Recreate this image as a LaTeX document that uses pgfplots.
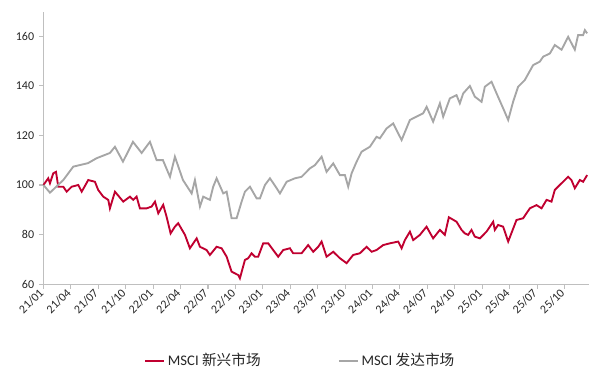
\documentclass[border=0pt]{standalone}
\usepackage{fontspec}
\setmainfont{Carlito}
\newfontfamily\cjk{Noto Sans CJK SC}
\usepackage{pgfplots}
\pgfplotsset{compat=1.18}
\definecolor{emred}{HTML}{C00030}
\definecolor{dmgray}{HTML}{A6A6A6}
\definecolor{axgray}{HTML}{BFBFBF}
\definecolor{txt}{HTML}{262626}
\begin{document}
\begin{tikzpicture}
\begin{axis}[
  scale only axis,
  width=409pt, height=204.2pt,
  xmin=0, xmax=59.66, ymin=60, ymax=169.7,
  axis lines*=left,
  axis line style={axgray, line width=0.8pt},
  every tick/.style={axgray, line width=0.8pt},
  tick align=outside,
  major tick length=3.5pt,
  xtick={0,3,...,57},
  xticklabels={21/01,21/04,21/07,21/10,22/01,22/04,22/07,22/10,23/01,23/04,23/07,23/10,24/01,24/04,24/07,24/10,25/01,25/04,25/07,25/10},
  ytick={60,80,...,160},
  x tick label style={rotate=45, anchor=east, font=\fontsize{9}{11}\selectfont, text=txt, inner sep=2pt},
  y tick label style={font=\fontsize{9}{11}\selectfont, text=txt},
  /pgf/number format/assume math mode=true,
  clip=false,
  legend columns=2,
  legend style={at={(0.4717,-0.2806)}, anchor=center, draw=none, fill=none,
    font=\fontsize{11}{13}\selectfont, text=txt,
    /tikz/every even column/.append style={column sep=56pt}},
  legend image code/.code={\draw[#1, line width=1.4pt] (0pt,0pt) -- (14.3pt,0pt);},
]
\addplot[emred, line width=1.4pt] coordinates {
(0,100)(0.52,102.7)(0.71,100.7)(1.07,104.7)(1.37,105.3)(1.62,99.3)(2.17,99.3)(2.54,97.3)(3.08,99.3)(3.81,100)(4.18,97.3)(4.90,102)(5.63,101.3)(5.99,98)(6.54,95.3)(7.09,94)(7.27,90.6)(7.82,97.3)(8.73,93.3)(9.46,95.3)(9.82,94)(10.19,95.3)(10.55,90.6)(11.29,90.6)(11.83,91.3)(12.20,93.3)(12.56,88.6)(13.10,92)(13.47,87.2)(13.91,80.5)(14.38,83.2)(14.74,84.6)(15.48,79.9)(16.02,74.5)(16.76,78.5)(17.12,75.1)(17.85,73.8)(18.21,71.8)(18.94,75.1)(19.49,74.5)(20.04,71.1)(20.58,65.1)(21.31,63.7)(21.49,62.4)(22.04,69.8)(22.40,70.5)(22.77,72.5)(23.13,71.1)(23.49,71.1)(24.04,76.5)(24.59,76.5)(25.13,73.8)(25.68,71.1)(26.23,73.8)(26.96,74.5)(27.32,72.5)(28.24,72.5)(28.96,75.8)(29.51,73.1)(30.06,75.1)(30.43,77.2)(30.97,71.1)(31.70,73.1)(32.43,70.5)(33.16,68.5)(33.88,71.8)(34.62,72.5)(35.35,75.1)(35.90,73.1)(36.44,73.8)(37.17,75.8)(37.90,76.5)(38.81,77.2)(39.18,74.5)(39.54,77.8)(40.09,81.2)(40.45,77.8)(41.18,79.9)(41.91,83.2)(42.63,78.5)(43.37,81.9)(43.91,79.9)(44.35,87)(45.19,85.2)(45.74,81.9)(46.10,80.5)(46.46,79.9)(46.83,81.9)(47.19,79.2)(47.74,78.5)(48.47,81.2)(49.20,85.2)(49.38,81.9)(49.74,83.9)(50.29,83.2)(50.84,77.2)(51.75,85.9)(52.48,86.6)(53.21,90.6)(53.94,91.9)(54.49,90.6)(55.04,94)(55.58,93.3)(55.94,98)(56.68,100.7)(57.40,103.3)(57.76,102)(58.13,98.7)(58.68,102)(59.04,101.3)(59.48,104)
};
\addlegendentry{MSCI {\cjk 新兴市场}}
\addplot[dmgray, line width=1.4pt] coordinates {
(0,100)(0.71,96.9)(2.17,102)(3.26,107.4)(4.87,108.8)(5.82,110.8)(7.27,112.9)(7.82,115.4)(8.70,109.4)(9.79,117.4)(10.74,112.9)(11.65,117.4)(12.38,110)(13.07,110)(13.84,103.3)(14.38,111.4)(15.26,102)(16.21,96.6)(16.57,102)(17.12,91.3)(17.48,95.3)(18.21,94)(18.57,99.3)(18.94,102.7)(19.67,96.6)(20.04,97.3)(20.58,86.6)(21.13,86.6)(21.68,93.3)(22.04,97.3)(22.59,99.3)(23.32,94.6)(23.68,94.6)(24.23,100)(24.78,102.7)(25.51,98.7)(25.87,96.6)(26.60,101.3)(27.51,102.7)(28.24,103.3)(29.15,106.7)(29.70,108)(30.43,111.4)(30.97,105.3)(31.70,108.7)(32.43,104)(32.98,104)(33.34,99.3)(33.71,104.7)(34.26,109.4)(34.80,113.4)(35.71,115.4)(36.44,119.4)(36.80,118.8)(37.54,122.8)(38.26,124.8)(39.18,118.1)(40.09,126.2)(41.54,128.9)(41.92,131.5)(42.63,125.5)(43.37,132.9)(43.73,127.5)(44.46,134.9)(45.19,136.2)(45.55,132.9)(45.92,136.9)(46.65,139.9)(47.19,135.6)(47.93,133.5)(48.29,139.6)(49.02,141.6)(49.57,136.9)(50.29,130.9)(50.84,126.2)(51.38,133.5)(51.93,139.6)(52.66,142.3)(53.57,148.3)(54.30,149.7)(54.67,151.7)(55.40,153)(55.94,156.4)(56.68,154.5)(57.40,159.7)(58.13,154.5)(58.49,160.4)(59.04,160.4)(59.23,162.4)(59.48,161.1)
};
\addlegendentry{MSCI {\cjk 发达市场}}
\end{axis}
\path (current axis.south west) ++(-32.6pt,-79.3pt) rectangle ++(450pt,292.5pt);
\end{tikzpicture}
\end{document}
